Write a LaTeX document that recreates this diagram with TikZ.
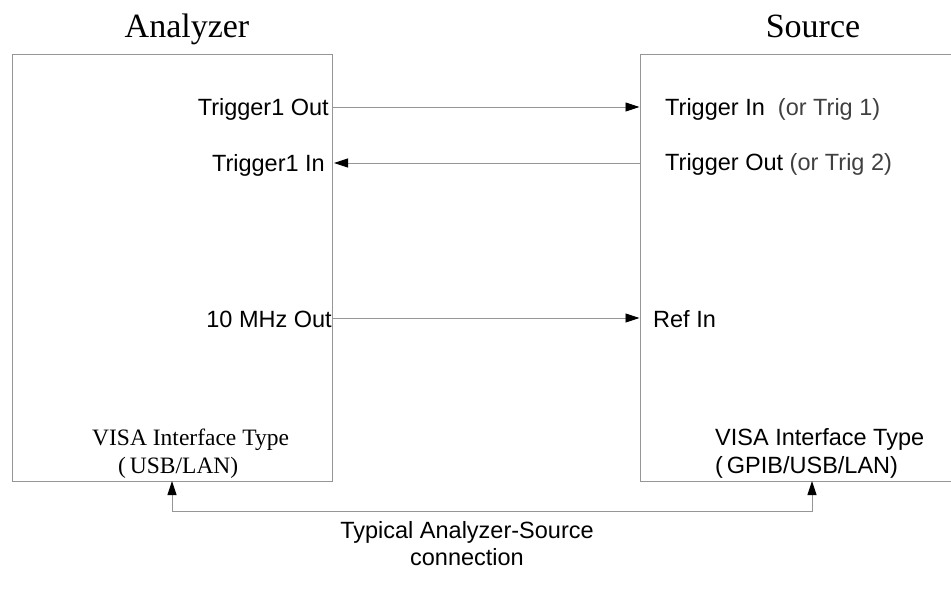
\documentclass[tikz,border=0pt]{standalone}
\usepackage{fontspec}
\setmainfont{Liberation Serif}
\setsansfont{Liberation Sans}
\usetikzlibrary{arrows.meta}
\definecolor{linegray}{RGB}{150,150,150}
\begin{document}
\begin{tikzpicture}[x=1pt, y=-1pt, >={Triangle[length=14pt,width=9pt,black]},
    every node/.style={font=\sffamily\fontsize{23.5}{27}\selectfont, inner sep=0pt},
    instbox/.style={draw=linegray, line width=1pt, minimum width=320pt, minimum height=427pt},
    title/.style={font=\rmfamily\fontsize{34}{40}\selectfont, anchor=base},
    conn/.style={draw=linegray, line width=0.9pt}]
            \clip (0,0) rectangle (951,598);

            \node[instbox] (ana) at (172,267.5) {};
            \node[instbox] (src) at (800,267.5) {};
            \node[title] (anatitle) at (187,37) {Analyzer};
            \node[title] (srctitle) at (813,37) {Source};

            \node[anchor=base east] (t1outlbl) at (329,115) {Trigger1 Out};
            \node[anchor=base east] (t1inlbl) at (325,171) {Trigger1 In};
            \node[anchor=base east] (refoutlbl) at (332,327) {10 MHz Out};
            \node[anchor=base west] (triginlbl) at (665,115) {Trigger In\ \ \textcolor{black!75}{(or Trig 1)}};
            \node[anchor=base west] (trigoutlbl) at (665,170) {Trigger Out \textcolor{black!75}{(or Trig 2)}};
            \node[anchor=base west] (refinlbl) at (653,327) {Ref In};

            \node[anchor=base west, font=\rmfamily\fontsize{23.5}{27}\selectfont] (anavisa) at (92,445) {VISA Interface Type};
            \node[anchor=base west, font=\rmfamily\fontsize{23.5}{27}\selectfont] (anaif) at (118,473) {(\,USB/LAN)};
            \node[anchor=base west] (srcvisa) at (715,445) {VISA Interface Type};
            \node[anchor=base west] (srcif) at (715,473) {(\,GPIB/USB/LAN)};

            \coordinate (t1out) at (ana.east |- 0,107);
            \coordinate (t1in) at (334,163);
            \coordinate (refout) at (ana.east |- 0,318);
            \coordinate (trigin) at (src.west |- 0,107);
            \coordinate (trigout) at (src.west |- 0,163);
            \coordinate (refin) at (src.west |- 0,318);
            \coordinate (anabus) at (172,481);
            \coordinate (anajog) at (172,511);
            \coordinate (srcjog) at (812,511);
            \coordinate (srcbus) at (812,481);

            \draw[conn, ->] (t1out) -- (trigin);
            \draw[conn, ->] (trigout) -- (t1in);
            \draw[conn, ->] (refout) -- (refin);
            \draw[conn, <->] (anabus) -- (anajog) -- (srcjog) -- (srcbus);

            \node[align=center, anchor=base] (caption) at (467,565) {Typical Analyzer-Source\\connection};
        \end{tikzpicture}
\end{document}
